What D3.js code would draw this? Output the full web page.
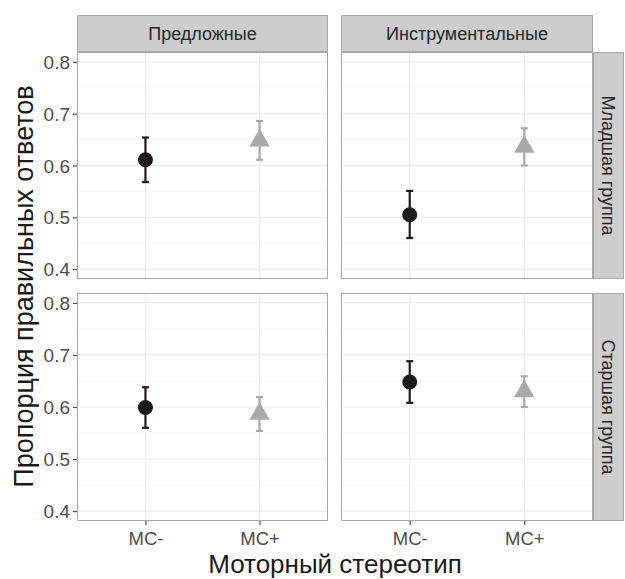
<!DOCTYPE html>
<html><head><meta charset="utf-8">
<script src="https://cdn.jsdelivr.net/npm/d3@7"></script>
<style>body{margin:0;background:#fff}svg{display:block}text{font-family:"Liberation Sans",Arial,sans-serif}</style>
</head><body><svg id="c" width="625" height="579"></svg>
<script>
const categories = ["МС-", "МС+"];
const colFacets = ["Предложные", "Инструментальные"];
const rowFacets = ["Младшая группа", "Старшая группа"];
const yTicks = [0.4, 0.5, 0.6, 0.7, 0.8];
const yMinor = [0.45, 0.55, 0.65, 0.75];
// values per panel [row][col] for each category
const means = [[[0.611, 0.648], [0.505, 0.636]], [[0.599, 0.587], [0.648, 0.630]]];
const lower = [[[0.568, 0.611], [0.460, 0.600]], [[0.560, 0.554], [0.608, 0.600]]];
const upper = [[[0.654, 0.686], [0.551, 0.672]], [[0.638, 0.619], [0.688, 0.659]]];

const svg = d3.select("#c");
const colX = [[77, 328], [341, 593]];
const rowY = [[52, 279], [293, 521]];
const stripTop = 15, stripRight = 624;

const x = d3.scalePoint().domain(categories).padding(0.6);
const y = d3.scaleLinear().domain([0.381, 0.819]);

for (let r = 0; r < 2; r++) {
  for (let c = 0; c < 2; c++) {
    const xs = x.copy().range(colX[c]);
    const ys = y.copy().range([rowY[r][1], rowY[r][0]]);
    const g = svg.append("g");
    g.append("rect").attr("x", colX[c][0]).attr("y", rowY[r][0])
      .attr("width", colX[c][1]-colX[c][0]).attr("height", rowY[r][1]-rowY[r][0]).attr("fill", "#fff");
    g.selectAll(".mn").data(yMinor).join("line")
      .attr("x1", colX[c][0]).attr("x2", colX[c][1])
      .attr("y1", d => ys(d)).attr("y2", d => ys(d)).attr("stroke", "#f4f4f4").attr("stroke-width", 1);
    g.selectAll(".mj").data(yTicks).join("line")
      .attr("x1", colX[c][0]).attr("x2", colX[c][1])
      .attr("y1", d => ys(d)).attr("y2", d => ys(d)).attr("stroke", "#ebebeb").attr("stroke-width", 1.2);
    g.selectAll(".vx").data(categories).join("line")
      .attr("x1", d => xs(d)).attr("x2", d => xs(d))
      .attr("y1", rowY[r][0]).attr("y2", rowY[r][1]).attr("stroke", "#ebebeb").attr("stroke-width", 1.2);
    // error bars
    categories.forEach((cat, i) => {
      const col = i === 0 ? "#1e1a1c" : "#a9a9a9";
      const cx = xs(cat);
      const eb = g.append("g").attr("stroke", col).attr("stroke-width", 2.2);
      eb.append("line").attr("x1", cx).attr("x2", cx).attr("y1", ys(lower[r][c][i])).attr("y2", ys(upper[r][c][i]));
      eb.append("line").attr("x1", cx-3.5).attr("x2", cx+3.5).attr("y1", ys(lower[r][c][i])).attr("y2", ys(lower[r][c][i]));
      eb.append("line").attr("x1", cx-3.5).attr("x2", cx+3.5).attr("y1", ys(upper[r][c][i])).attr("y2", ys(upper[r][c][i]));
      if (i === 0) {
        g.append("circle").attr("cx", cx).attr("cy", ys(means[r][c][i])).attr("r", 7.5).attr("fill", col);
      } else {
        g.append("path").attr("d", d3.symbol(d3.symbolTriangle, 180)())
          .attr("transform", `translate(${cx},${ys(means[r][c][i])})`).attr("fill", col);
      }
    });
    g.append("rect").attr("x", colX[c][0]+0.5).attr("y", rowY[r][0]+0.5)
      .attr("width", colX[c][1]-colX[c][0]-1).attr("height", rowY[r][1]-rowY[r][0]-1)
      .attr("fill", "none").attr("stroke", "#a8a8a8").attr("stroke-width", 1);
    // y axis on left column
    if (c === 0) {
      const ax = svg.append("g").attr("transform", `translate(${colX[0][0]},0)`)
        .call(d3.axisLeft(ys).tickValues(yTicks).tickFormat(d3.format(".1f")).tickSize(4).tickPadding(3));
      ax.select(".domain").remove();
      ax.selectAll("line").attr("stroke", "#4d4d4d").attr("stroke-width", 1.2);
      ax.selectAll("text").attr("fill", "#4d4d4d").style("font-size", "19px").attr("dy", "0.35em");
    }
    if (r === 1) {
      const ax = svg.append("g").attr("transform", `translate(0,${rowY[1][1]})`)
        .call(d3.axisBottom(xs).tickSize(4).tickPadding(7));
      ax.select(".domain").remove();
      ax.selectAll("line").attr("stroke", "#4d4d4d").attr("stroke-width", 1.2);
      ax.selectAll("text").attr("fill", "#4d4d4d").style("font-size", "18.5px");
    }
  }
}
// top strips
colFacets.forEach((f, c) => {
  svg.append("rect").attr("x", colX[c][0]+0.5).attr("y", stripTop+0.5)
    .attr("width", colX[c][1]-colX[c][0]-1).attr("height", rowY[0][0]-stripTop-1)
    .attr("fill", "#cdcdcd").attr("stroke", "#a8a8a8");
  svg.append("text").attr("x", (colX[c][0]+colX[c][1])/2).attr("y", (stripTop+rowY[0][0])/2)
    .attr("text-anchor", "middle").attr("dy", "0.35em").attr("fill", "#262626")
    .style("font-size", "18px").text(f);
});
rowFacets.forEach((f, r) => {
  svg.append("rect").attr("x", colX[1][1]+0.5).attr("y", rowY[r][0]+0.5)
    .attr("width", stripRight-colX[1][1]-1).attr("height", rowY[r][1]-rowY[r][0]-1)
    .attr("fill", "#cdcdcd").attr("stroke", "#a8a8a8");
  const cx = (colX[1][1]+stripRight)/2, cy = (rowY[r][0]+rowY[r][1])/2;
  svg.append("text").attr("transform", `translate(${cx},${cy}) rotate(90)`)
    .attr("text-anchor", "middle").attr("dy", "0.35em").attr("fill", "#262626")
    .style("font-size", "18px").text(f);
});
// axis titles
svg.append("text").attr("x", (colX[0][0]+colX[1][1])/2).attr("y", 573)
  .attr("text-anchor", "middle").attr("fill", "#1a1a1a").style("font-size", "26px").text("Моторный стереотип");
svg.append("text").attr("transform", `translate(33,${(rowY[0][0]+rowY[1][1])/2}) rotate(-90)`)
  .attr("text-anchor", "middle").attr("fill", "#1a1a1a").style("font-size", "27px").text("Пропорция правильных ответов");
</script></body></html>
